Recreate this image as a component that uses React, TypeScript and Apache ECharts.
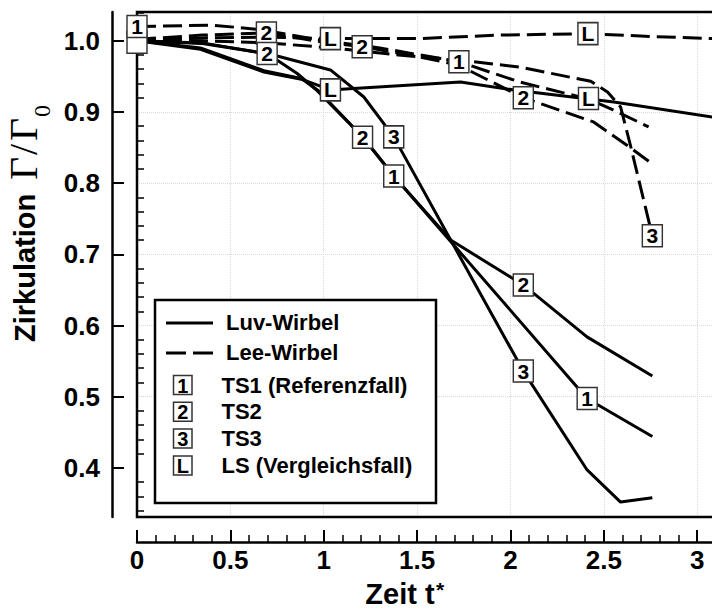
import React, { useEffect, useRef } from "react";
import * as echarts from "echarts";

// ---------- data ----------
// Luv-Wirbel (solid)
const luvTS1T = [0, 0.34, 0.68, 0.88, 0.97, 1.21, 1.375, 1.68, 2.41, 2.76];
const luvTS1V = [1.0, 0.99, 0.958, 0.947, 0.93, 0.8645, 0.81, 0.718, 0.4975, 0.444];
const luvTS2T = [0, 0.35, 0.697, 0.858, 0.965, 1.21, 1.375, 1.68, 2.069, 2.41, 2.76];
const luvTS2V = [1.0, 0.996, 0.982, 0.954, 0.93, 0.8645, 0.81, 0.72, 0.657, 0.584, 0.529];
const luvTS3T = [0, 0.35, 0.73, 1.036, 1.215, 1.375, 1.68, 2.069, 2.408, 2.59, 2.76];
const luvTS3V = [1.0, 0.997, 0.98, 0.959, 0.921, 0.865, 0.72, 0.536, 0.398, 0.352, 0.358];
const luvLST = [0, 0.34, 0.68, 0.88, 1.036, 1.16, 1.733, 2.04, 2.554, 3.2];
const luvLSV = [1.0, 0.988, 0.956, 0.946, 0.931, 0.933, 0.942, 0.93, 0.914, 0.888];
// Lee-Wirbel (dashed)
const leeTS1T = [0, 0.4, 0.65, 1.0, 1.3, 1.724, 2.05, 2.42, 2.55, 2.74];
const leeTS1V = [1.02, 1.022, 1.016, 1.0, 0.99, 0.9705, 0.942, 0.918, 0.903, 0.879];
const leeTS2T = [0, 0.35, 0.693, 1.0, 1.206, 1.5, 1.72, 2.069, 2.445, 2.626, 2.76];
const leeTS2V = [1.002, 1.008, 1.011, 0.998, 0.9916, 0.978, 0.966, 0.92, 0.886, 0.853, 0.827];
const leeTS3T = [0, 0.35, 0.7, 1.04, 1.4, 1.72, 2.05, 2.43, 2.52, 2.59, 2.64, 2.76];
const leeTS3V = [1.0, 1.0, 0.997, 0.99, 0.98, 0.973, 0.963, 0.943, 0.928, 0.907, 0.856, 0.726];
const leeLST = [0, 0.35, 0.7, 1.036, 1.5, 1.95, 2.415, 2.75, 3.2];
const leeLSV = [1.0, 1.004, 1.005, 1.003, 1.003, 1.008, 1.01, 1.006, 1.002];

// boxed curve labels ("" = box hidden under its neighbour at t = 0)
const markerText = ["", "1", "2", "L", "2", "1", "2", "L", "3", "2", "L", "2", "3", "1", "2", "3", "1", "L"];
const markerT = [0, 0, 0.693, 1.036, 1.206, 1.724, 2.069, 2.415, 2.76, 0.697, 1.036, 1.208, 1.375, 1.375, 2.069, 2.069, 2.411, 2.418];
const markerV = [0.998, 1.02, 1.011, 1.003, 0.9916, 0.9705, 0.92, 1.01, 0.726, 0.982, 0.931, 0.8645, 0.865, 0.81, 0.657, 0.536, 0.4975, 0.919];

// axis ticks
const yMajorTicks = [0.4, 0.5, 0.6, 0.7, 0.8, 0.9, 1.0];
const yMinorTicks = [0.34, 0.36, 0.38, 0.42, 0.44, 0.46, 0.48, 0.52, 0.54, 0.56, 0.58, 0.62, 0.64, 0.66, 0.68, 0.72, 0.74, 0.76, 0.78, 0.82, 0.84, 0.86, 0.88, 0.92, 0.94, 0.96, 0.98, 1.02, 1.04];
const xLabelTicks = [0, 0.5, 1, 1.5, 2, 2.5, 3];

// legend
const legendLineLabels = ["Luv-Wirbel", "Lee-Wirbel"];
const legendMarkerKeys = ["1", "2", "3", "L"];
const legendMarkerLabels = ["TS1 (Referenzfall)", "TS2", "TS3", "LS (Vergleichsfall)"];

const FONT = '"Liberation Sans", Arial, Helvetica, sans-serif';
const SERIF = '"Liberation Serif", "Times New Roman", serif';

const X_MIN = 0;
const X_MAX = 3.5;
const Y_MIN = 0.331;
const Y_MAX = 1.0404;

function pairs(t: number[], v: number[]) {
  return t.map((x, i) => [x, v[i]]);
}

export default function App() {
  const ref = useRef<HTMLDivElement>(null);

  useEffect(() => {
    if (!ref.current) return;
    const chart = echarts.init(ref.current, undefined, { renderer: "svg" });

    const solid = { type: "solid", width: 3, color: "#000" };
    const dashed = { type: [19, 7], width: 3, color: "#000" };

    const lineSeries = (name: string, t: number[], v: number[], style: any) => ({
      type: "line",
      name,
      data: pairs(t, v),
      symbol: "none",
      lineStyle: style,
      z: 2,
      silent: true,
    });

    const markers = markerText.map((s, i) => ({ name: s, value: [markerT[i], markerV[i]] }));

    const legendGraphics: any[] = [
      {
        type: "rect",
        shape: { x: 155, y: 300, width: 281, height: 203 },
        style: { fill: "#fff", stroke: "#000", lineWidth: 2.5 },
        z: 20,
      },
      {
        type: "line",
        shape: { x1: 166, y1: 323, x2: 213, y2: 323 },
        style: { stroke: "#000", lineWidth: 3 },
        z: 21,
      },
      {
        type: "line",
        shape: { x1: 166, y1: 353, x2: 213, y2: 353 },
        style: { stroke: "#000", lineWidth: 3, lineDash: [20, 7] },
        z: 21,
      },
      {
        type: "text",
        x: 226,
        y: 322,
        style: { text: legendLineLabels[0], fill: "#000", font: `bold 22px ${FONT}`, align: "left", verticalAlign: "middle" },
        z: 21,
      },
      {
        type: "text",
        x: 226,
        y: 352,
        style: { text: legendLineLabels[1], fill: "#000", font: `bold 22px ${FONT}`, align: "left", verticalAlign: "middle" },
        z: 21,
      },
    ];
    legendMarkerKeys.forEach((k, i) => {
      const cy = 385 + i * 26.8;
      legendGraphics.push(
        {
          type: "rect",
          shape: { x: 173.5, y: cy - 9.5, width: 18.5, height: 19 },
          style: { fill: "#fff", stroke: "#333", lineWidth: 1.5 },
          z: 21,
        },
        {
          type: "text",
          x: 182.75,
          y: cy + 0.5,
          style: { text: k, fill: "#000", font: `bold 20px ${FONT}`, align: "center", verticalAlign: "middle" },
          z: 22,
        },
        {
          type: "text",
          x: 221.5,
          y: cy,
          style: { text: legendMarkerLabels[i], fill: "#000", font: `bold 22px ${FONT}`, align: "left", verticalAlign: "middle" },
          z: 21,
        }
      );
    });

    const option: any = {
      animation: false,
      backgroundColor: "#fff",
      grid: {
        left: 137,
        top: 12,
        right: -78.5,
        bottom: 93,
        show: false,
        containLabel: false,
        outerBoundsMode: "none",
      },
      xAxis: {
        type: "value",
        min: X_MIN,
        max: X_MAX,
        interval: 0.5,
        offset: 25,
        axisLine: { show: true, onZero: false, lineStyle: { color: "#000", width: 2.5 } },
        axisTick: { show: true, inside: true, length: 12, lineStyle: { color: "#000", width: 2 } },
        minorTick: { show: true, splitNumber: 5, length: 7, lineStyle: { color: "#000", width: 1.5 } },
        axisLabel: {
          show: true,
          margin: 5,
          customValues: xLabelTicks,
          color: "#000",
          fontSize: 26,
          fontWeight: "bold",
          fontFamily: FONT,
        },
        splitLine: { show: true, lineStyle: { color: "#d9d9d9", type: "dotted", width: 1 } },
      },
      yAxis: [
        {
          type: "value",
          min: Y_MIN,
          max: Y_MAX,
          position: "left",
          offset: 25,
          axisLine: { show: true, onZero: false, lineStyle: { color: "#000", width: 2.5 } },
          axisTick: { show: true, inside: true, length: 12, customValues: yMajorTicks, lineStyle: { color: "#000", width: 2 } },
          axisLabel: {
            show: true,
            margin: 12,
            customValues: yMajorTicks,
            formatter: (v: number) => v.toFixed(1),
            color: "#000",
            fontSize: 26,
            fontWeight: "bold",
            fontFamily: FONT,
          },
          splitLine: { show: true, showMinLine: false, showMaxLine: false, lineStyle: { color: "#d9d9d9", type: "dotted", width: 1 } },
        },
        {
          type: "value",
          min: Y_MIN,
          max: Y_MAX,
          position: "left",
          offset: 25,
          axisLine: { show: false },
          axisTick: { show: true, inside: true, length: 7, customValues: yMinorTicks, lineStyle: { color: "#000", width: 1.5 } },
          axisLabel: { show: false },
          splitLine: { show: false },
        },
      ],
      graphic: [
        {
          type: "rect",
          shape: { x: 137, y: 12, width: 800, height: 505 },
          style: { fill: "none", stroke: "#000", lineWidth: 2.5 },
          z: 3,
        },
        // y axis title
        {
          type: "text",
          x: 25,
          y: 342,
          rotation: Math.PI / 2,
          style: { text: "Zirkulation", fill: "#000", font: `bold 29px ${FONT}`, align: "left", verticalAlign: "middle" },
        },
        {
          type: "text",
          x: 23.5,
          y: 180,
          rotation: Math.PI / 2,
          style: { text: "Γ", fill: "#000", font: `40px ${SERIF}`, align: "left", verticalAlign: "middle" },
        },
        {
          type: "text",
          x: 23.5,
          y: 155,
          rotation: Math.PI / 2,
          style: { text: "/", fill: "#000", font: `40px ${SERIF}`, align: "left", verticalAlign: "middle" },
        },
        {
          type: "text",
          x: 23.5,
          y: 141,
          rotation: Math.PI / 2,
          style: { text: "Γ", fill: "#000", font: `40px ${SERIF}`, align: "left", verticalAlign: "middle" },
        },
        {
          type: "text",
          x: 42,
          y: 117,
          rotation: Math.PI / 2,
          style: { text: "0", fill: "#000", font: `24px ${SERIF}`, align: "left", verticalAlign: "middle" },
        },
        // x axis title
        {
          type: "text",
          x: 400,
          y: 594,
          style: { text: "Zeit t", fill: "#000", font: `bold 29px ${FONT}`, align: "center", verticalAlign: "middle" },
        },
        {
          type: "text",
          x: 436,
          y: 589,
          style: { text: "*", fill: "#000", font: `bold 21px ${FONT}`, align: "left", verticalAlign: "middle" },
        },
        ...legendGraphics,
      ],
      series: [
        lineSeries("Luv TS1", luvTS1T, luvTS1V, solid),
        lineSeries("Luv TS2", luvTS2T, luvTS2V, solid),
        lineSeries("Luv TS3", luvTS3T, luvTS3V, solid),
        lineSeries("Luv LS", luvLST, luvLSV, solid),
        lineSeries("Lee TS1", leeTS1T, leeTS1V, dashed),
        lineSeries("Lee TS2", leeTS2T, leeTS2V, dashed),
        lineSeries("Lee TS3", leeTS3T, leeTS3V, dashed),
        lineSeries("Lee LS", leeLST, leeLSV, dashed),
        {
          type: "scatter",
          data: markers,
          symbol: "rect",
          symbolSize: [20, 22],
          clip: false,
          silent: true,
          itemStyle: { color: "#fff", borderColor: "#333", borderWidth: 1.5, opacity: 1 },
          label: {
            show: true,
            position: "inside",
            formatter: (p: any) => p.name,
            fontSize: 21,
            fontWeight: "bold",
            color: "#000",
            fontFamily: FONT,
          },
          z: 5,
        },
      ],
    };

    chart.setOption(option);
    return () => {
      chart.dispose();
    };
  }, []);

  return (
    <div
      ref={ref}
      style={{ position: "absolute", left: 0, top: 0, width: 712, height: 610, background: "#fff" }}
    />
  );
}
